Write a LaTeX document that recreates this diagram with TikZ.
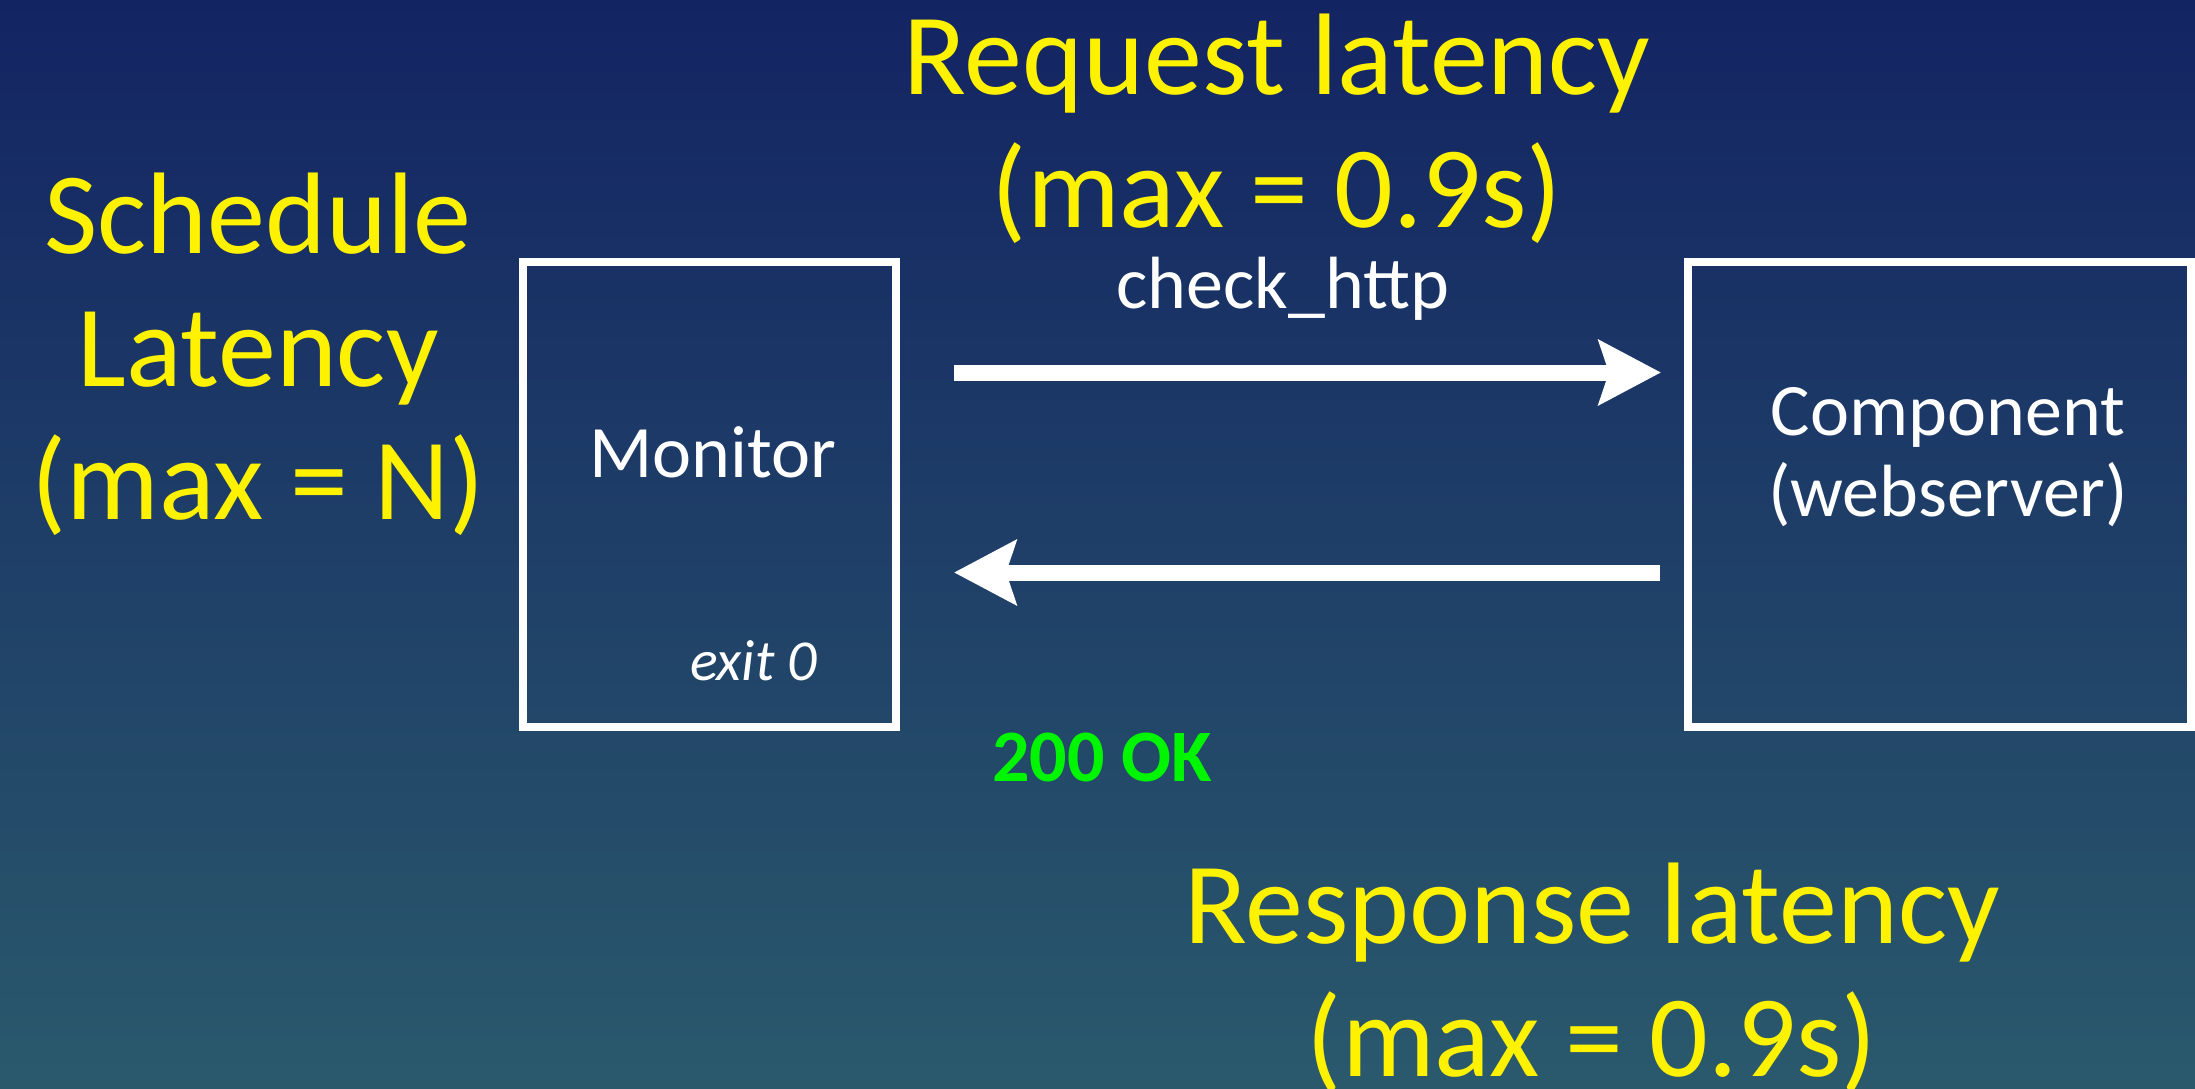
\documentclass[tikz,border=0pt]{standalone}
\usepackage{fontspec}
\setmainfont{Carlito}
\usetikzlibrary{arrows.meta,positioning}
\definecolor{bgtop}{RGB}{19,36,99}
\definecolor{bgmid}{RGB}{33,66,108}
\definecolor{bgbot}{RGB}{42,89,108}
\definecolor{okgreen}{RGB}{0,245,0}
\tikzset{
  panel/.style    = {draw=white, line width=4pt, inner sep=0pt, minimum height=232.5pt},
  bignote/.style  = {text=yellow, font=\fontsize{58}{66.5}\selectfont, align=center, anchor=base},
  boxtext/.style  = {text=white, font=\fontsize{37}{40.5}\selectfont, align=center, anchor=base},
  wire/.style     = {draw=white, line width=8pt, -{Stealth[length=31pt, width=32pt, inset=5pt]}},
  status/.style   = {text=okgreen, font=\bfseries\fontsize{37}{40}\selectfont, anchor=base}
}

\begin{document}
\begin{tikzpicture}[x=0.5pt, y=-0.5pt]
    % Background
    \useasboundingbox (0,0) rectangle (2195,1088);
    \shade[top color=bgtop, middle color=bgmid, bottom color=bgbot] (0,0) rectangle (2195,1088);
    % Boxes
    \node[panel, minimum width=186.5pt] (mon) at (709.5,494.5) {};
    \node[panel, minimum width=251.5pt] (comp) at (1939.5,494.5) {};
    \node[boxtext] (montxt) at (713,477) {Monitor};
    \node[boxtext] (comptxt) at (1948,516) {Component\\(webserver)};
    \node[boxtext, font=\itshape\fontsize{29}{32}\selectfont, anchor=base east] (exit) at (824,680) {exit 0};
    % Latencies
    \node[bignote] (sched) at (258,519) {Schedule\\Latency\\(max = N)};
    \node[bignote] (req) at (1277,227) {Request latency\\(max = 0.9s)};
    \node[bignote] (resp) at (1592,1076) {Response latency\\(max = 0.9s)};
    % Wires
    \draw[wire, shorten <=27pt, shorten >=11.5pt] ([yshift=61pt]mon.east) -- ([yshift=61pt]comp.west);
    \draw[wire, shorten <=12pt, shorten >=27pt] ([yshift=-39pt]comp.west) -- ([yshift=-39pt]mon.east);
    \node[boxtext] (check) at (1283,308) {check\_http};
    \node[status] (ok) at (1102,781) {200 OK};
\end{tikzpicture}
\end{document}
